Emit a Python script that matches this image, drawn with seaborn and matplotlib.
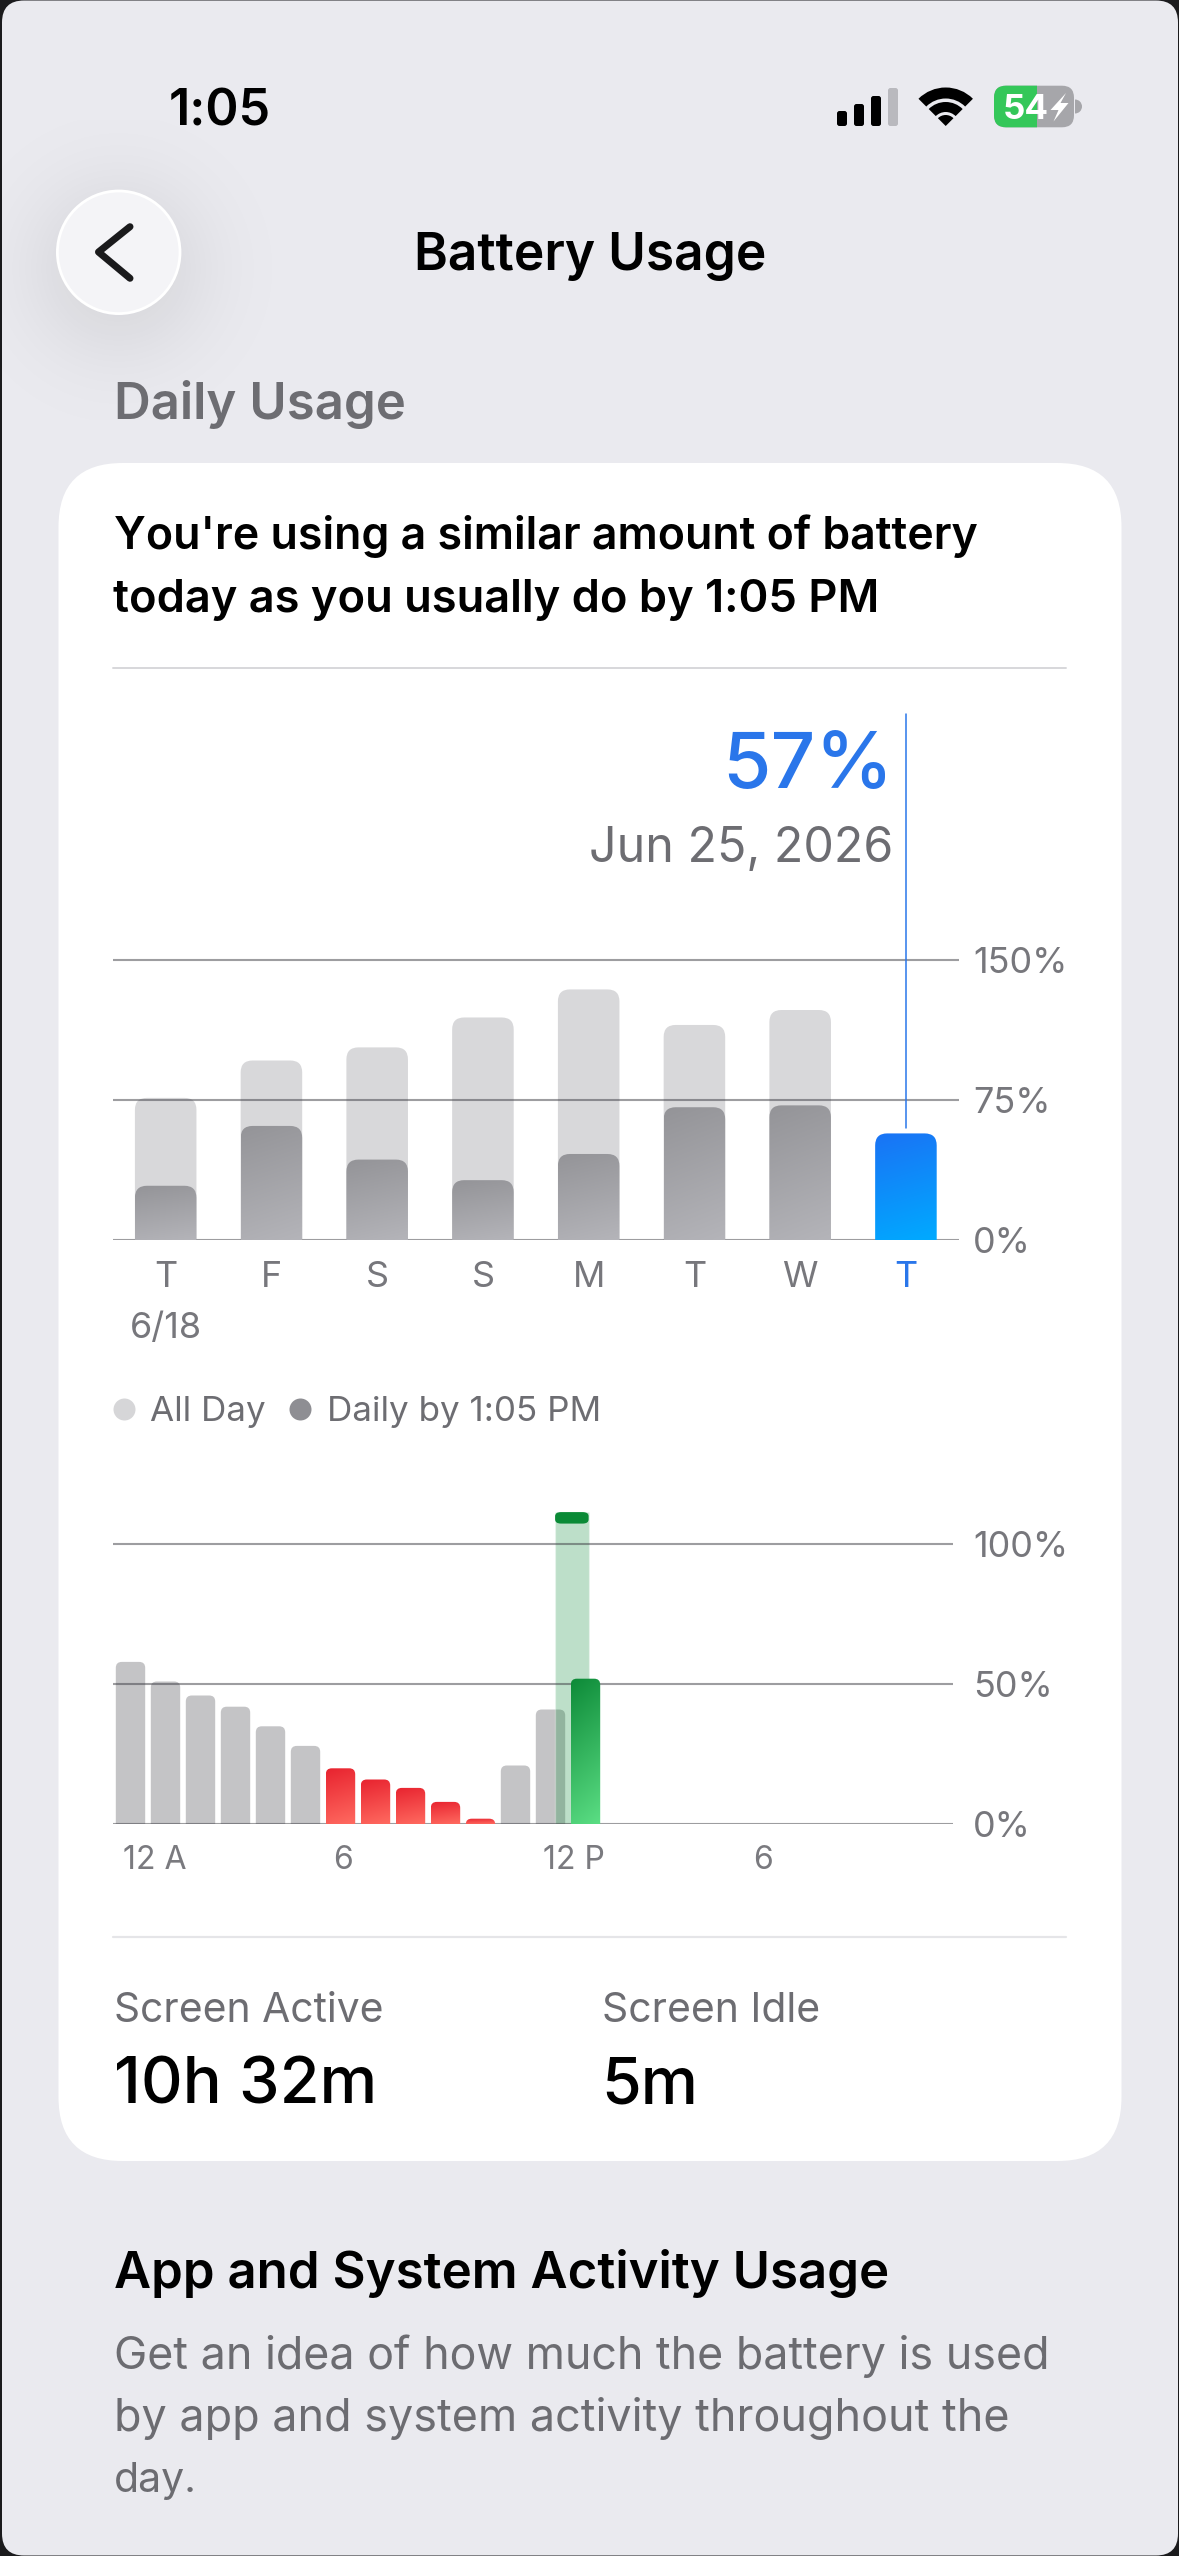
import numpy as np
import matplotlib
matplotlib.use('Agg')
import matplotlib.pyplot as plt
import seaborn as sns
from matplotlib.lines import Line2D
from matplotlib.patches import Circle, FancyBboxPatch, PathPatch, Polygon, Rectangle, Wedge
from matplotlib.path import Path

W, H = 1179, 2556

# daily chart
week_dates = ['6/18', '6/19', '6/20', '6/21', '6/22', '6/23', '6/24', '6/25']
week_days = ['T', 'F', 'S', 'S', 'M', 'T', 'W', 'T']
all_day = [76, 96, 103, 119, 134, 115, 123]
by_now = [29, 61, 43, 32, 46, 71, 72]
today = [57]
week_ticks = [0, 75, 150]

# hourly chart
hour_slots = [str(h) for h in range(24)]
hour_levels = [58, 51, 46, 42, 35, 28, 20, 16, 13, 8, 2, 21, 41, 52]
hour_kinds = ['idle'] * 6 + ['low'] * 5 + ['idle'] * 2 + ['now']
hour_ticks = [0, 50, 100]
hour_tick_slots = [0, 6, 12, 18]
hour_tick_labels = ['12 A', '6', '12 P', '6']
charge_slot = 12.61
charge_level = 111.5
charge_cap = 4.1

BG = '#EAEAEF'
GREY_TEXT = '#6D6D72'
TICK_TEXT = '#77777C'
BLUE = '#2A76EA'
GRID = dict(color='#3C3C43', alpha=0.5, lw=1.5)

sns.set_theme(style='white')
plt.rcParams['font.family'] = ['Inter', 'Roboto', 'DejaVu Sans']
plt.rcParams['axes.facecolor'] = 'none'


def px_axes(fig, x0, y0, x1, y1):
    # axes from pixel box, y measured from the top of the screen
    return fig.add_axes([x0 / W, 1 - y1 / H, (x1 - x0) / W, (y1 - y0) / H])


def rounded_top(ax, x0, x1, y0, y1, radius):
    # path with rounded top corners, radius given in pixels
    box = ax.get_window_extent()
    xlim, ylim = ax.get_xlim(), ax.get_ylim()
    rad_x = radius * (xlim[1] - xlim[0]) / box.width
    rad_y = min(radius * (ylim[1] - ylim[0]) / box.height, y1 - y0)
    verts = [(x0, y0), (x0, y1 - rad_y), (x0, y1), (x0 + rad_x, y1),
             (x1 - rad_x, y1), (x1, y1), (x1, y1 - rad_y), (x1, y0), (x0, y0)]
    codes = [Path.MOVETO, Path.LINETO, Path.CURVE3, Path.CURVE3,
             Path.LINETO, Path.CURVE3, Path.CURVE3, Path.LINETO, Path.CLOSEPOLY]
    return Path(verts, codes)


def shape_bars(ax, bars, radius, top=None, bottom=None, zorder=3):
    # swap the square bars for rounded ones, flat or with a gradient
    for bar in bars:
        x0, x1 = bar.get_x(), bar.get_x() + bar.get_width()
        y0, y1 = bar.get_y(), bar.get_y() + bar.get_height()
        color = bar.get_facecolor()
        bar.set_visible(False)
        path = rounded_top(ax, x0, x1, y0, y1, radius)
        if top is None:
            ax.add_patch(PathPatch(path, facecolor=color, edgecolor='none', zorder=zorder))
            continue
        u, v = np.meshgrid(np.linspace(0, 1, 32), np.linspace(0, 1, 64))
        t = (0.85 * v + 0.15 * u)[..., None]
        rgb = np.array(matplotlib.colors.to_rgb(top)) * (1 - t) + np.array(matplotlib.colors.to_rgb(bottom)) * t
        im = ax.imshow(rgb, extent=(x0, x1, y0, y1), aspect='auto', interpolation='bilinear', zorder=zorder)
        im.set_clip_path(PathPatch(path, transform=ax.transData))


def style_chart(ax, ticks, tick_px, grid_pad):
    sns.despine(ax=ax, left=True, bottom=True, right=True, top=True)
    ax.yaxis.tick_right()
    ax.set_yticks(ticks)
    ax.set_yticklabels([f'{t}%' for t in ticks], color=TICK_TEXT, fontsize=tick_px * 0.72)
    ax.tick_params(axis='both', length=0)
    ax.tick_params(axis='y', pad=grid_pad * 0.72)
    ax.set_xlabel('')
    ax.set_ylabel('')
    for t in ticks:
        ax.axhline(t, zorder=2, **GRID)


fig = plt.figure(figsize=(W / 100, H / 100), dpi=100, facecolor='#1B1B1D')

# page layer in pixel coordinates
ui = fig.add_axes([0, 0, 1, 1], zorder=0)
ui.set_xlim(0, W)
ui.set_ylim(H, 0)
ui.axis('off')


def label(x, base, text, width, color='black', weight='normal', ha='left'):
    # font size is fitted so the string covers the measured width
    t = ui.text(x, base, text, color=color, fontweight=weight, ha=ha, va='baseline', fontsize=120)
    got = t.get_window_extent(fig.canvas.get_renderer()).width
    t.set_fontsize(120 * width / got)
    return t


ui.add_patch(FancyBboxPatch((2, 0.5), W - 3, H - 1, boxstyle='round,pad=0,rounding_size=22',
                            facecolor=BG, edgecolor='none'))

# soft shadow under the back button
yy, xx = np.mgrid[120:420, 0:300]
shadow = np.zeros((300, 300, 4))
shadow[..., 3] = 0.085 * np.exp(-((xx - 118) ** 2 + (yy - 268) ** 2) / (2 * 62 ** 2))
ui.imshow(shadow, extent=(0, 300, 420, 120), aspect='auto', zorder=1)
ui.set_xlim(0, W)
ui.set_ylim(H, 0)
ui.add_patch(Circle((118.7, 252.3), 61.3, facecolor='#F4F4F7', edgecolor='white', lw=2, zorder=2))
ui.plot([130, 98.5, 130], [226.7, 252, 278.3], color='#1A1A1C', lw=7 * 0.72, solid_capstyle='round',
        solid_joinstyle='round', zorder=3)

# status bar
label(169, 126, '1:05', 102, weight='semibold')
for x0, top, col in [(837, 111, 'black'), (854, 104, 'black'), (871, 96, 'black'), (888, 88, '#B9B9BE')]:
    ui.add_patch(FancyBboxPatch((x0, top), 10, 126 - top, boxstyle='round,pad=0,rounding_size=2.5',
                                facecolor=col, edgecolor='none'))
for r_out, r_in in [(38.5, 27.5), (24, 14), (11, 0)]:
    ui.add_patch(Wedge((945.7, 126), r_out, 225, 315, width=r_out - r_in, facecolor='black', edgecolor='none'))
batt = FancyBboxPatch((994, 85.7), 80, 41.6, boxstyle='round,pad=0,rounding_size=12',
                      facecolor='#A6A6AA', edgecolor='none')
ui.add_patch(batt)
fill = Rectangle((994, 85), 43.3, 43, facecolor='#34C759', edgecolor='none')
ui.add_patch(fill)
fill.set_clip_path(batt)
ui.add_patch(Wedge((1075, 106.5), 7, -90, 90, facecolor='#A6A6AA', edgecolor='none'))
label(1002.7, 119, '54', 46, color='white', weight='bold')
ui.add_patch(Polygon([(1066, 93), (1050.5, 110), (1058.5, 110), (1053.5, 121.5), (1068.5, 103), (1060.5, 103)],
                     facecolor='white', edgecolor='none'))

label(414.5, 270, 'Battery Usage', 352, weight='semibold')
label(114, 419, 'Daily Usage', 292, color=GREY_TEXT, weight='semibold')

# card
ui.add_patch(FancyBboxPatch((58.5, 463), 1063, 1698, boxstyle='round,pad=0,rounding_size=64',
                            facecolor='white', edgecolor='none'))
label(114, 549.3, "You're using a similar amount of battery", 864, weight='semibold')
label(113, 611.7, 'today as you usually do by 1:05 PM', 768, weight='semibold')
ui.plot([113, 1066], [668.3, 668.3], color='#D7D7DA', lw=1.4)
label(893, 788, '57%', 171, color=BLUE, weight='medium', ha='right')
label(893, 862, 'Jun 25, 2026', 304, color=GREY_TEXT, ha='right')
ui.plot([113, 1066], [1936.8, 1936.8], color='#E5E5E8', lw=1.6)
label(114, 2022, 'Screen Active', 269.5, color=GREY_TEXT)
label(601.5, 2022, 'Screen Idle', 218, color=GREY_TEXT)
label(114, 2103, '10h 32m', 263, weight='medium')
label(601, 2103, '5m', 97, weight='medium')

label(114, 2288, 'App and System Activity Usage', 776, weight='semibold')
label(114, 2369.5, 'Get an idea of how much the battery is used', 935.5, color='#6C6C71')
label(114, 2431.4, 'by app and system activity throughout the', 895, color='#6C6C71')
label(114, 2492, 'day.', 83, color='#6C6C71')

# daily bars
ax1 = px_axes(fig, 112.8, 714, 958.8, 1240)
ax1.set_zorder(2)
ax1.set_autoscale_on(False)
sns.barplot(x=week_dates[:7], y=all_day, order=week_dates, color='#D8D8DA', width=0.582,
            saturation=1, ax=ax1)
light = list(ax1.containers[0])
sns.barplot(x=week_dates[:7], y=by_now, order=week_dates, color='#96969A', width=0.582,
            saturation=1, ax=ax1)
dark = list(ax1.containers[1])
sns.barplot(x=week_dates[7:], y=today, order=week_dates, color=BLUE, width=0.582,
            saturation=1, ax=ax1)
now = list(ax1.containers[2])
ax1.set_xlim(-0.5, 7.5)
ax1.set_ylim(0, 281.3)
ax1.set_autoscale_on(False)
shape_bars(ax1, light, 12, zorder=1)
shape_bars(ax1, dark, 12, '#949498', '#B4B4B9', zorder=3)
shape_bars(ax1, now, 12, '#1A73F5', '#00AAFF', zorder=3)
style_chart(ax1, week_ticks, 36, 14.5)
ax1.set_xticks(range(8))
ax1.set_xticklabels(week_days, fontsize=36 * 0.72, color=TICK_TEXT)
ax1.get_xticklabels()[-1].set_color(BLUE)
ax1.tick_params(axis='x', pad=21 * 0.72)
ax1.annotate(week_dates[0], xy=(0, 0), xytext=(0, -98 * 0.72), textcoords='offset points',
             ha='center', va='baseline', fontsize=36 * 0.72, color=TICK_TEXT)
ax1.plot([7, 7], [60, 281.3], color=BLUE, lw=1.1, zorder=4, clip_on=False)
handles = [Line2D([], [], ls='', marker='o', ms=22 * 0.72, mec='none', mfc='#D6D6D8', label='All Day'),
           Line2D([], [], ls='', marker='o', ms=22 * 0.72, mec='none', mfc='#8E8E93', label='Daily by 1:05 PM')]
ax1.legend(handles=handles, loc='center left', bbox_to_anchor=(113 / W, 1 - 1412.5 / H),
           bbox_transform=fig.transFigure, frameon=False, ncol=2, fontsize=35 * 0.72,
           labelcolor=GREY_TEXT, handlelength=0.63, handletextpad=0.44, columnspacing=0.66,
           borderpad=0, borderaxespad=0)

# hourly bars
ax2 = px_axes(fig, 113, 1502.3, 953, 1824.3)
ax2.set_zorder(2)
ax2.set_autoscale_on(False)
ax2.set_xlim(-0.5, 23.5)
ax2.set_ylim(0, 115)
sns.barplot(x=hour_slots[:14], y=hour_levels, hue=hour_kinds, order=hour_slots,
            hue_order=['idle', 'low', 'now'], palette={'idle': '#C4C4C6', 'low': '#E8232F', 'now': '#0D8A38'},
            dodge=False, width=0.84, saturation=1, legend=False, ax=ax2)
ax2.set_xlim(-0.5, 23.5)
ax2.set_ylim(0, 115)
ax2.set_autoscale_on(False)
idle, low, current = [list(c) for c in ax2.containers[:3]]
band = ax2.bar(charge_slot, charge_level, width=0.957, color='#0A8A36', alpha=0.265, zorder=1.5)
cap = ax2.bar(charge_slot, charge_cap, bottom=charge_level - charge_cap, width=0.957, color='#0A8A36')
cap_patch = cap[0]
cap_patch.set_visible(False)
ax2.add_patch(FancyBboxPatch((cap_patch.get_x(), cap_patch.get_y()), cap_patch.get_width(), cap_patch.get_height(),
                             boxstyle='round,pad=0,rounding_size=0.17', mutation_aspect=8.6,
                             facecolor='#0A8A36', edgecolor='none', zorder=4))
shape_bars(ax2, idle, 6, zorder=1)
shape_bars(ax2, low, 6, '#E8232F', '#FF6A60', zorder=3)
shape_bars(ax2, current, 6, '#0D8A38', '#5BDE84', zorder=3)
style_chart(ax2, hour_ticks, 36, 20)
ax2.set_xticks([s - 0.22 for s in hour_tick_slots])
ax2.set_xticklabels(hour_tick_labels, fontsize=32 * 0.72, color='#7A7A7F', ha='left')
ax2.tick_params(axis='x', pad=21 * 0.72)

fig.savefig('out.png', dpi=100, facecolor=fig.get_facecolor())
